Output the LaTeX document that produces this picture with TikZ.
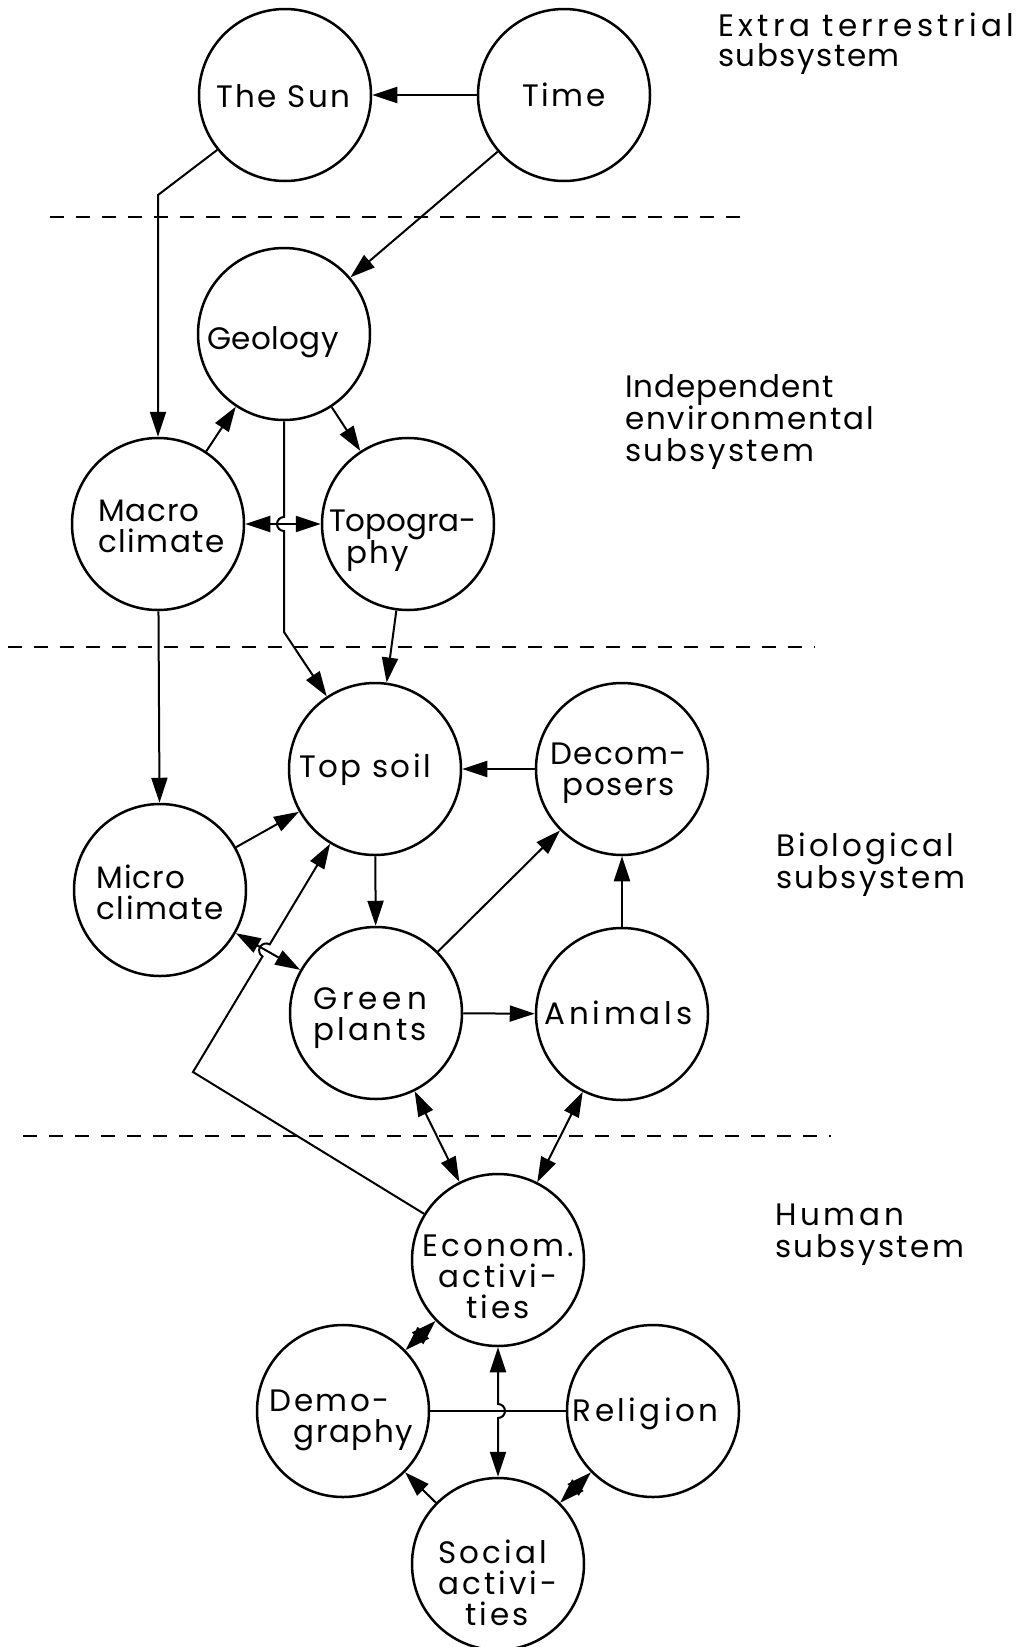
\documentclass[tikz,border=0pt]{standalone}
\usepackage{fontspec}
\setmainfont{Poppins}[LetterSpace=8]
\usetikzlibrary{arrows.meta}

% stencil-like lettering used throughout
\newcommand\lettering{\fontsize{31}{31}\selectfont}
\newcommand\letteringtight{\fontsize{31}{29.5}\selectfont}
\newcommand\letteringmid{\fontsize{31}{32}\selectfont}
\newcommand\spaced[2]{{\addfontfeatures{LetterSpace=#1}#2}}

\tikzset{
  unit/.style={circle, draw, line width=2.5pt, minimum size=172pt, inner sep=0pt},
  lab/.style={font=\lettering, inner sep=0pt, text depth=0pt},
  tip/.tip={Triangle[length=25pt,width=16pt]},
  link/.style={line width=2pt, -tip},
  both/.style={line width=2pt, tip-tip},
  plain/.style={line width=2pt},
  divider/.style={line width=2pt, dash pattern=on 14pt off 12pt},
  caption/.style={font=\letteringmid, align=left, anchor=north west, inner sep=0pt},
}

\begin{document}
\begin{tikzpicture}[x=1pt, y=-1pt]
  \fill[white] (0,0) rectangle (1032,1647);
  \useasboundingbox (0,0) rectangle (1032,1647);

  % subsystem boundaries
  \draw[divider] (50,217) -- (741,217);
  \draw[divider] (8,647) -- (815,647);
  \draw[divider] (23,1136) -- (831,1136);

  % subsystem captions
  \node[caption, font=\letteringtight] (extra) at (718,13)
    {\spaced{14}{Extra terrestrial}\\\spaced{5}{subsystem}};
  \node[caption] (indep) at (625,374)
    {\spaced{3}{Independent}\\\spaced{6}{environmental}\\subsystem};
  \node[caption] (bio) at (776,833) {\spaced{10}{Biological}\\subsystem};
  \node[caption] (human) at (775,1204) {\spaced{12}{Human}\\subsystem};

  % extra terrestrial
  \node[unit, label={[lab,xshift=-1.5pt,yshift=-1pt]center:The Sun}] (sun) at (285,95) {};
  \node[unit, label={[lab]center:Time}] (time) at (564,95) {};

  % independent environmental
  \node[unit, label={[lab,xshift=-11pt,yshift=-4pt]center:\spaced{1}{Geology}}] (geo) at (284,334) {};
  \node[unit, label={[lab,align=left,xshift=3.5pt,yshift=-2.5pt]center:{\spaced{3}{Macro}\\\spaced{5}{climate}}}] (macro) at (158,524) {};
  \node[unit, label={[lab,align=left,xshift=-5pt,yshift=-12.5pt]center:{\spaced{0}{Topogra-}\\\hspace*{17pt}phy}}] (topo) at (408,524) {};

  % biological
  \node[unit, label={[lab,xshift=-10pt,yshift=3pt]center:Top soil}] (soil) at (375,769) {};
  \node[unit, label={[lab,align=center,xshift=-3.5pt]center:{\spaced{5}{Decom-}\\\spaced{5}{posers}}}] (decomp) at (622,769) {};
  \node[unit, label={[lab,align=left,yshift=-2.5pt]center:{\spaced{3}{Micro}\\\spaced{5}{climate}}}] (micro) at (160,890) {};
  \node[unit, label={[lab,align=left,xshift=-6pt,yshift=-1.5pt]center:{\spaced{16}{Green}\\\spaced{11}{plants}}}] (plants) at (376,1013) {};
  \node[unit, label={[lab,xshift=-3.5pt,yshift=1pt]center:\spaced{12}{Animals}}] (animals) at (622,1014) {};

  % human
  \node[unit, label={[lab,align=center,yshift=-16.5pt]center:{\spaced{10}{Econom.}\\\spaced{10}{activi-}\\\spaced{10}{ties}}}] (econ) at (498,1260) {};
  \node[unit, label={[lab,align=left,xshift=-1.5pt,yshift=-5pt]center:{\spaced{8}{Demo-}\\\hspace*{24pt}\spaced{5}{graphy}}}] (demo) at (343,1411) {};
  \node[unit, label={[lab,xshift=-7.5pt,yshift=1.5pt]center:\spaced{11}{Religion}}] (religion) at (653,1411) {};
  \node[unit, label={[lab,align=left,yshift=-19pt]center:{\spaced{10}{Social}\\\spaced{10}{activi-}\\\hspace*{27pt}\spaced{10}{ties}}}] (social) at (498,1564) {};

  % bends and crossings
  \coordinate (sunbend) at (158,195);
  \coordinate (geohopin) at (284,517);
  \coordinate (geobend) at (284,632);
  \coordinate (econbend) at (193,1072);
  \coordinate (econhopin) at (262.5,956.4);
  \coordinate (sochopin) at (498,1404);

  % extra terrestrial links
  \draw[link] (time) -- (sun);
  \draw[link] (sun.219) -- (sunbend) -- (macro.north);
  \draw[link] (time) -- (geo);

  % environmental links
  \draw[link] (macro) -- (geo);
  \draw[link] (geo) -- (topo);
  \draw[both] (macro) -- (topo);
  \draw[link] (geo.south) -- (geohopin) arc[start angle=90, end angle=270, radius=7pt] -- (geobend) -- (soil);
  \draw[link] (topo) -- (soil);
  \draw[link] (macro) -- (micro);

  % biological links
  \draw[link] (micro) -- (soil);
  \draw[both] (micro) -- (plants);
  \draw[link] (decomp) -- (soil);
  \draw[link] (soil) -- (plants);
  \draw[link] (plants) -- (decomp);
  \draw[link] (plants) -- (animals);
  \draw[link] (animals) -- (decomp);

  % human links
  \draw[link] (econ.148) -- (econbend) -- (econhopin) arc[start angle=239, end angle=59, radius=7pt] -- (soil);
  \draw[both] (plants) -- (econ);
  \draw[both] (animals) -- (econ);
  \draw[both] (econ) -- (demo);
  \draw[plain] (demo) -- (religion);
  \draw[both] (econ.south) -- (sochopin) arc[start angle=90, end angle=-90, radius=7pt] -- (social.north);
  \draw[link] (social) -- (demo);
  \draw[both] (social) -- (religion);
\end{tikzpicture}
\end{document}
